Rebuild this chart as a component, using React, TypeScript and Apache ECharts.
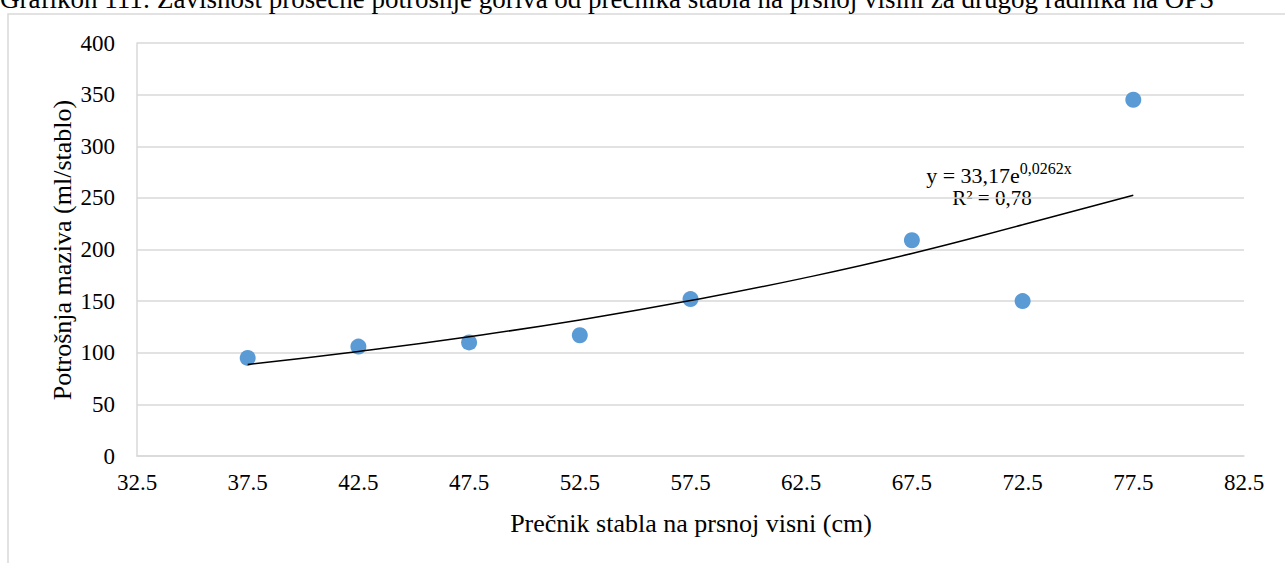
import React, { useEffect, useRef } from "react";
import * as echarts from "echarts";

const titleText =
  "Grafikon 111: Zavisnost prosečne potrošnje goriva od prečnika stabla na prsnoj visini za drugog radnika na OPS";
const xAxisTitle = "Prečnik stabla na prsnoj visni (cm)";
const yAxisTitle = "Potrošnja maziva (ml/stablo)";

const diameters = [37.5, 42.5, 47.5, 52.5, 57.5, 67.5, 72.5, 77.5];
const consumption = [95, 106, 110, 117, 152, 209, 150, 345];

// exponential trendline y = 33,17e^(0,0262x), read along its drawn path
const trendX = [37.5, 42.5, 47.5, 52.5, 57.5, 62.5, 67.5, 72.5, 77.5];
const trendY = [88.6, 101.2, 115.5, 131.8, 150.5, 171.8, 196.1, 223.9, 252.6];

const FONT = "Liberation Serif, Times New Roman, serif";

export default function App() {
  const ref = useRef<HTMLDivElement>(null);
  useEffect(() => {
    if (!ref.current) return;
    const chart = echarts.init(ref.current, null, { renderer: "svg" });
    chart.setOption({
      animation: false,
      backgroundColor: "#ffffff",
      textStyle: { fontFamily: FONT },
      grid: { left: 137, right: 41, top: 43, bottom: 107, containLabel: false },
      xAxis: {
        type: "value",
        min: 32.5,
        max: 82.5,
        interval: 5,
        axisLine: { show: true, lineStyle: { color: "#d9d9d9", width: 1.5 } },
        axisTick: { show: false },
        splitLine: { show: false },
        axisLabel: {
          color: "#000",
          fontSize: 23,
          fontFamily: FONT,
          margin: 15,
          formatter: (v: number) => v.toFixed(1),
        },
      },
      yAxis: {
        type: "value",
        min: 0,
        max: 400,
        interval: 50,
        axisLine: { show: true, lineStyle: { color: "#d9d9d9", width: 1.5 } },
        axisTick: { show: false },
        splitLine: { show: true, lineStyle: { color: "#d9d9d9", width: 1.5 } },
        axisLabel: { color: "#000", fontSize: 23, fontFamily: FONT, margin: 22 },
      },
      series: [
        {
          type: "line",
          data: trendX.map((x, i) => [x, trendY[i]]),
          smooth: true,
          showSymbol: false,
          symbol: "none",
          lineStyle: { color: "#000", width: 1.5 },
          z: 3,
        },
        {
          type: "scatter",
          data: diameters.map((x, i) => [x, consumption[i]]),
          symbol: "circle",
          symbolSize: 16,
          itemStyle: { color: "#5b9bd5", opacity: 1 },
          z: 2,
        },
      ],
      graphic: [
        {
          type: "rect",
          shape: { x: 8, y: 14, width: 1300, height: 600 },
          style: { fill: "none", stroke: "#d9d9d9", lineWidth: 1.5 },
          silent: true,
          z: -1,
        },
        {
          type: "text",
          x: 0,
          y: -1,
          style: {
            text: titleText,
            fontSize: 27,
            fontFamily: FONT,
            fill: "#000",
            textAlign: "left",
            textVerticalAlign: "middle",
          },
        },
        {
          type: "text",
          x: 62,
          y: 250,
          rotation: Math.PI / 2,
          style: {
            text: yAxisTitle,
            fontSize: 26,
            fontFamily: FONT,
            fill: "#000",
            textAlign: "center",
            textVerticalAlign: "middle",
          },
        },
        {
          type: "text",
          x: 691,
          y: 523,
          style: {
            text: xAxisTitle,
            fontSize: 26,
            fontFamily: FONT,
            fill: "#000",
            textAlign: "center",
            textVerticalAlign: "middle",
          },
        },
        {
          type: "text",
          x: 999,
          y: 173,
          style: {
            text: "{a|y = 33,17e}{s|0,0262x}",
            textAlign: "center",
            textVerticalAlign: "middle",
            rich: {
              a: { fontSize: 22, fontFamily: FONT, fill: "#000", verticalAlign: "bottom" },
              s: {
                fontSize: 16,
                fontFamily: FONT,
                fill: "#000",
                verticalAlign: "top",
                padding: [0, 0, 10, 0],
              },
            },
          },
        },
        {
          type: "text",
          x: 992,
          y: 198,
          style: {
            text: "R² = 0,78",
            fontSize: 21,
            fontFamily: FONT,
            fill: "#000",
            textAlign: "center",
            textVerticalAlign: "middle",
          },
        },
      ],
    });
    return () => chart.dispose();
  }, []);
  return (
    <div
      ref={ref}
      style={{ position: "fixed", left: 0, top: 0, width: 1285, height: 563 }}
    />
  );
}
